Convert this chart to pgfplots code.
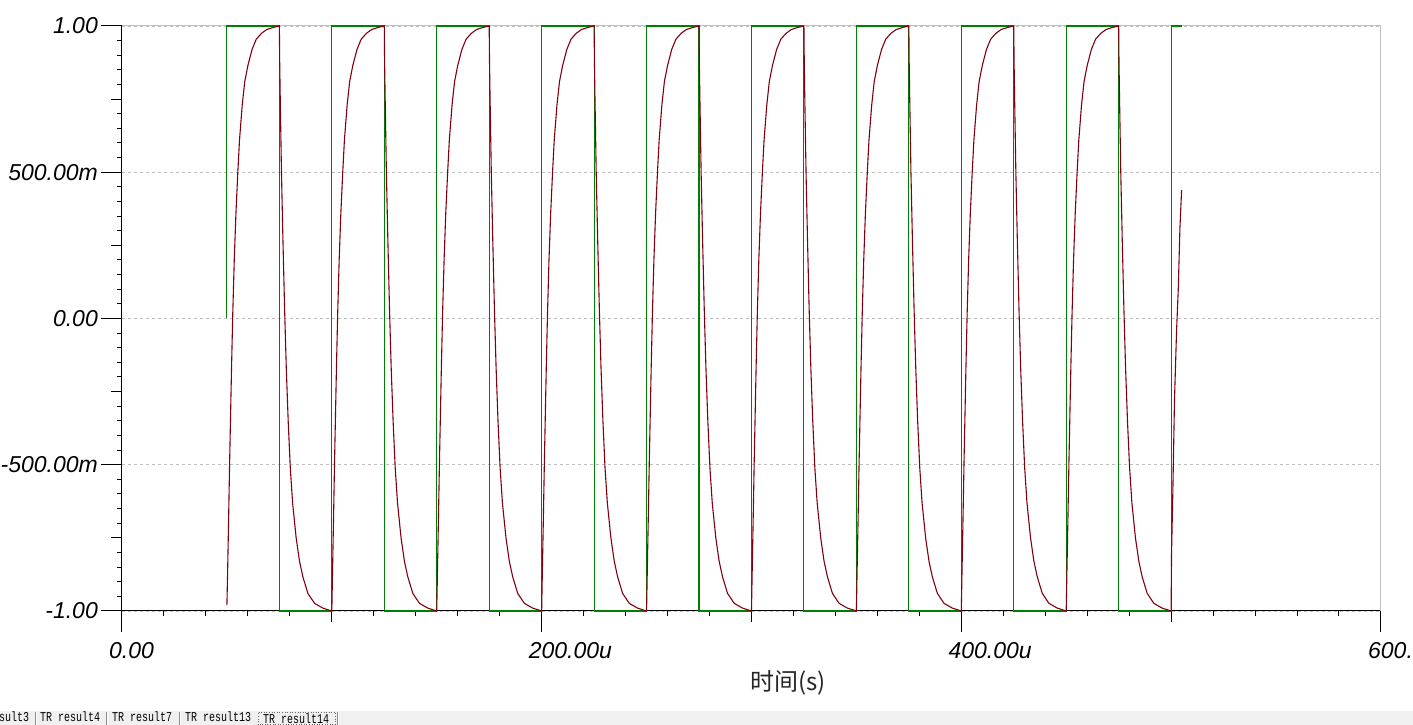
\documentclass[border=0pt]{standalone}
\usepackage{fontspec}
\setmainfont{Liberation Sans}
\newfontfamily\cjk{Noto Sans CJK SC}
\newfontfamily\tabfont{Liberation Mono}
\usepackage{pgfplots}
\pgfplotsset{compat=1.18}

\definecolor{simgreen}{RGB}{0,128,0}
\definecolor{simred}{RGB}{128,0,16}
\definecolor{gridgray}{RGB}{190,190,190}
\definecolor{framegray}{RGB}{192,192,192}
\definecolor{tabbg}{RGB}{240,240,240}

\begin{document}
\begin{tikzpicture}[x=1pt,y=1pt]
\path[use as bounding box] (0,0) rectangle (1413,725);
\fill[white] (0,0) rectangle (1413,725);
\begin{axis}[at={(122pt,114pt)}, anchor=south west, scale only axis,
  width=1259pt, height=585pt, xmin=0, xmax=600, ymin=-1, ymax=1, clip=false,
  axis x line*=bottom, axis y line*=left, x axis line style={-}, y axis line style={-},
  axis line style={black, line width=1pt},
  xtick={0,200,400,600}, xticklabels={0.00,200.00u,400.00u,600.00u},
  ytick={-1,-0.5,0,0.5,1}, yticklabels={-1.00,-500.00m,0.00,500.00m,1.00},
  minor x tick num=9, minor y tick num=9,
  extra x ticks={100,300,500}, extra x tick labels={},
  extra y ticks={-0.75,-0.25,0.25,0.75}, extra y tick labels={},
  extra tick style={major tick length=11pt, grid=none},
  tick align=outside, major tick length=21pt, minor tick length=5pt,
  tick style={black, line width=1pt},
  ymajorgrids, grid style={gridgray, line width=0.8pt, dash pattern=on 3pt off 3pt},
  ticklabel style={font=\fontsize{23}{25}\selectfont\itshape, inner sep=0pt},
  xticklabel style={anchor=north west, xshift=-13pt, yshift=-10pt},
  yticklabel style={anchor=east, xshift=-3pt},
  xlabel={\cjk 时间(s)},
  xlabel style={at={(rel axis cs:0.529,0)}, anchor=center, yshift=-72pt,
    font=\fontsize{24}{26}\selectfont, text=black!85},
]
\draw[framegray, line width=1pt] (rel axis cs:0,1) -- (rel axis cs:1,1) -- (rel axis cs:1,0);
\addplot[simgreen, line width=1.1pt] coordinates {
(50,0)(50,1)(75,1)(75,-1)(100,-1)(100,1)(125,1)(125,-1)(150,-1)(150,1)(175,1)(175,-1)
(200,-1)(200,1)(225,1)(225,-1)(250,-1)(250,1)(275,1)(275,-1)(300,-1)(300,1)(325,1)(325,-1)
(350,-1)(350,1)(375,1)(375,-1)(400,-1)(400,1)(425,1)(425,-1)(450,-1)(450,1)(475,1)(475,-1)
(500,-1)(500,1)(505,1)
};
\addplot[simred, line width=1.1pt] coordinates {
(50,-0.98)(50.3,-0.88)(50.8,-0.69)(51.3,-0.49)(52.2,-0.17)(52.8,0.02)(53.5,0.2)(54.3,0.36)(55.2,0.5)(56,0.61)(57.3,0.73)(58.5,0.81)(60,0.865)(62,0.92)(64,0.955)(66.5,0.975)(69,0.988)(72,0.995)
(75,1)(75.15,0.88)(75.4,0.76)(76,0.5)(76.7,0.27)(77.5,0.03)(78.3,-0.17)(79.2,-0.35)(80.2,-0.51)(81.3,-0.63)(83,-0.75)(84.6,-0.83)(86.2,-0.883)(88.6,-0.94)(91.8,-0.974)(95.7,-0.99)
(100,-1)(100.3,-0.88)(100.8,-0.69)(101.3,-0.49)(102.2,-0.17)(102.8,0.02)(103.5,0.2)(104.3,0.36)(105.2,0.5)(106,0.61)(107.3,0.73)(108.5,0.81)(110,0.865)(112,0.92)(114,0.955)(116.5,0.975)(119,0.988)(122,0.995)
(125,1)(125.15,0.88)(125.4,0.76)(126,0.5)(126.7,0.27)(127.5,0.03)(128.3,-0.17)(129.2,-0.35)(130.2,-0.51)(131.3,-0.63)(133,-0.75)(134.6,-0.83)(136.2,-0.883)(138.6,-0.94)(141.8,-0.974)(145.7,-0.99)
(150,-1)(150.3,-0.88)(150.8,-0.69)(151.3,-0.49)(152.2,-0.17)(152.8,0.02)(153.5,0.2)(154.3,0.36)(155.2,0.5)(156,0.61)(157.3,0.73)(158.5,0.81)(160,0.865)(162,0.92)(164,0.955)(166.5,0.975)(169,0.988)(172,0.995)
(175,1)(175.15,0.88)(175.4,0.76)(176,0.5)(176.7,0.27)(177.5,0.03)(178.3,-0.17)(179.2,-0.35)(180.2,-0.51)(181.3,-0.63)(183,-0.75)(184.6,-0.83)(186.2,-0.883)(188.6,-0.94)(191.8,-0.974)(195.7,-0.99)
(200,-1)(200.3,-0.88)(200.8,-0.69)(201.3,-0.49)(202.2,-0.17)(202.8,0.02)(203.5,0.2)(204.3,0.36)(205.2,0.5)(206,0.61)(207.3,0.73)(208.5,0.81)(210,0.865)(212,0.92)(214,0.955)(216.5,0.975)(219,0.988)(222,0.995)
(225,1)(225.15,0.88)(225.4,0.76)(226,0.5)(226.7,0.27)(227.5,0.03)(228.3,-0.17)(229.2,-0.35)(230.2,-0.51)(231.3,-0.63)(233,-0.75)(234.6,-0.83)(236.2,-0.883)(238.6,-0.94)(241.8,-0.974)(245.7,-0.99)
(250,-1)(250.3,-0.88)(250.8,-0.69)(251.3,-0.49)(252.2,-0.17)(252.8,0.02)(253.5,0.2)(254.3,0.36)(255.2,0.5)(256,0.61)(257.3,0.73)(258.5,0.81)(260,0.865)(262,0.92)(264,0.955)(266.5,0.975)(269,0.988)(272,0.995)
(275,1)(275.15,0.88)(275.4,0.76)(276,0.5)(276.7,0.27)(277.5,0.03)(278.3,-0.17)(279.2,-0.35)(280.2,-0.51)(281.3,-0.63)(283,-0.75)(284.6,-0.83)(286.2,-0.883)(288.6,-0.94)(291.8,-0.974)(295.7,-0.99)
(300,-1)(300.3,-0.88)(300.8,-0.69)(301.3,-0.49)(302.2,-0.17)(302.8,0.02)(303.5,0.2)(304.3,0.36)(305.2,0.5)(306,0.61)(307.3,0.73)(308.5,0.81)(310,0.865)(312,0.92)(314,0.955)(316.5,0.975)(319,0.988)(322,0.995)
(325,1)(325.15,0.88)(325.4,0.76)(326,0.5)(326.7,0.27)(327.5,0.03)(328.3,-0.17)(329.2,-0.35)(330.2,-0.51)(331.3,-0.63)(333,-0.75)(334.6,-0.83)(336.2,-0.883)(338.6,-0.94)(341.8,-0.974)(345.7,-0.99)
(350,-1)(350.3,-0.88)(350.8,-0.69)(351.3,-0.49)(352.2,-0.17)(352.8,0.02)(353.5,0.2)(354.3,0.36)(355.2,0.5)(356,0.61)(357.3,0.73)(358.5,0.81)(360,0.865)(362,0.92)(364,0.955)(366.5,0.975)(369,0.988)(372,0.995)
(375,1)(375.15,0.88)(375.4,0.76)(376,0.5)(376.7,0.27)(377.5,0.03)(378.3,-0.17)(379.2,-0.35)(380.2,-0.51)(381.3,-0.63)(383,-0.75)(384.6,-0.83)(386.2,-0.883)(388.6,-0.94)(391.8,-0.974)(395.7,-0.99)
(400,-1)(400.3,-0.88)(400.8,-0.69)(401.3,-0.49)(402.2,-0.17)(402.8,0.02)(403.5,0.2)(404.3,0.36)(405.2,0.5)(406,0.61)(407.3,0.73)(408.5,0.81)(410,0.865)(412,0.92)(414,0.955)(416.5,0.975)(419,0.988)(422,0.995)
(425,1)(425.15,0.88)(425.4,0.76)(426,0.5)(426.7,0.27)(427.5,0.03)(428.3,-0.17)(429.2,-0.35)(430.2,-0.51)(431.3,-0.63)(433,-0.75)(434.6,-0.83)(436.2,-0.883)(438.6,-0.94)(441.8,-0.974)(445.7,-0.99)
(450,-1)(450.3,-0.88)(450.8,-0.69)(451.3,-0.49)(452.2,-0.17)(452.8,0.02)(453.5,0.2)(454.3,0.36)(455.2,0.5)(456,0.61)(457.3,0.73)(458.5,0.81)(460,0.865)(462,0.92)(464,0.955)(466.5,0.975)(469,0.988)(472,0.995)
(475,1)(475.15,0.88)(475.4,0.76)(476,0.5)(476.7,0.27)(477.5,0.03)(478.3,-0.17)(479.2,-0.35)(480.2,-0.51)(481.3,-0.63)(483,-0.75)(484.6,-0.83)(486.2,-0.883)(488.6,-0.94)(491.8,-0.974)(495.7,-0.99)
(500,-1)(500.2,-0.8)(500.8,-0.6)(501.6,-0.28)(502.6,-0.04)(503.4,0.1)(504.2,0.31)(505,0.44)
};
\end{axis}
% tab strip at the bottom
\fill[tabbg] (0,0) rectangle (1413,14);
\begin{scope}[font=\tabfont\fontsize{10}{11}\selectfont]
\node[anchor=base west, inner sep=0] at (-1,3) {\scalebox{1}[1.35]{sult3}};
\node[anchor=base west, inner sep=0] at (40,3) {\scalebox{1}[1.35]{TR result4}};
\node[anchor=base west, inner sep=0] at (112,3) {\scalebox{1}[1.35]{TR result7}};
\node[anchor=base west, inner sep=0] at (185,3) {\scalebox{1}[1.35]{TR result13}};
\node[anchor=base west, inner sep=0] at (263,1.5) {\scalebox{1}[1.35]{TR result14}};
\end{scope}
\foreach \sx in {35,106,179,337} {
  \draw[black!45, line width=1pt] (\sx,0) -- (\sx,13);
  \draw[white, line width=1pt] (\sx+1,0) -- (\sx+1,13);
}
\draw[black!60, line width=0.6pt, dotted] (258,0.5) rectangle (335,13);
\end{tikzpicture}
\end{document}
